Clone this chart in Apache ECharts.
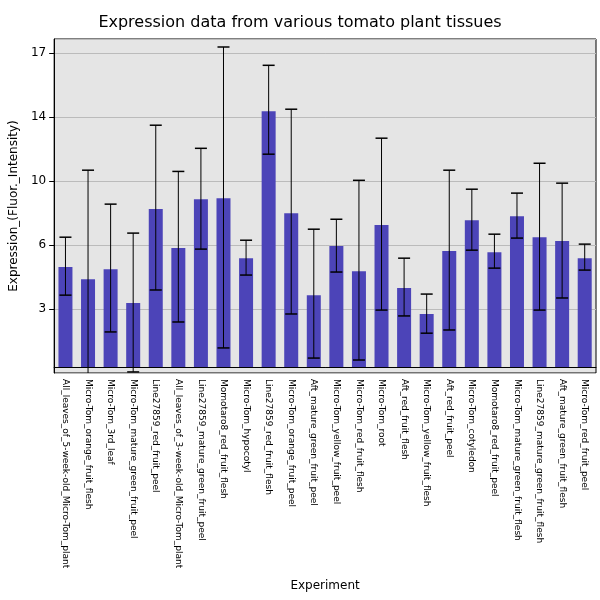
<!DOCTYPE html>
<html><head><meta charset="utf-8">
<script src="https://cdn.jsdelivr.net/npm/echarts@6/dist/echarts.min.js"></script>
<style>html,body{margin:0;padding:0;background:#fff}#c{width:600px;height:600px}</style>
</head><body><div id="c"></div>
<script>
var categories=["All_leaves_of_5-week-old_Micro-Tom_plant","Micro-Tom_orange_fruit_flesh","Micro-Tom_3rd_leaf","Micro-Tom_mature_green_fruit_peel","Line27859_red_fruit_peel","All_leaves_of_3-week-old_Micro-Tom_plant","Line27859_mature_green_fruit_peel","Momotaro8_red_fruit_flesh","Micro-Tom_hypocotyl","Line27859_red_fruit_flesh","Micro-Tom_orange_fruit_peel","Aft_mature_green_fruit_peel","Micro-Tom_yellow_fruit_peel","Micro-Tom_red_fruit_flesh","Micro-Tom_root","Aft_red_fruit_flesh","Micro-Tom_yellow_fruit_flesh","Aft_red_fruit_peel","Micro-Tom_cotyledon","Momotaro8_red_fruit_peel","Micro-Tom_mature_green_fruit_flesh","Line27859_mature_green_fruit_flesh","Aft_mature_green_fruit_flesh","Micro-Tom_red_fruit_peel"];
var values=[5.62,4.94,5.5,3.6,8.88,6.69,9.44,9.49,6.12,14.38,8.65,4.04,6.8,5.39,7.98,4.44,2.98,6.52,8.26,6.46,8.48,7.3,7.08,6.12];
var errHigh=[7.3,11.07,9.16,7.53,13.6,11.0,12.3,18.0,7.13,16.97,14.5,7.75,8.31,10.5,12.87,6.12,4.1,11.07,10.0,7.47,9.78,11.46,10.34,6.91];
var errLow=[4.04,-1.2,1.97,-0.28,4.33,2.53,6.63,1.07,5.17,11.97,2.98,0.5,5.34,0.39,3.2,2.87,1.9,2.08,6.57,5.56,7.25,3.2,3.88,5.45];
var chart=echarts.init(document.getElementById('c'));
chart.setOption({
  animation:false,
  title:{text:'Expression data from various tomato plant tissues',left:'center',top:10,textStyle:{fontSize:16,fontWeight:'normal',color:'#000',fontFamily:'DejaVu Sans'}},
  grid:{left:50,right:4,top:39,bottom:227,containLabel:false,backgroundColor:'#e5e5e5',show:true,borderColor:'#000',borderWidth:1},
  xAxis:{type:'category',data:categories,name:'Experiment',nameLocation:'middle',nameGap:207,nameTextStyle:{fontSize:12,color:'#000',fontFamily:'DejaVu Sans'},
    axisLabel:{rotate:-90,interval:0,fontSize:9,color:'#000',fontFamily:'DejaVu Sans',margin:6},
    axisTick:{show:false},axisLine:{lineStyle:{color:'#000'}}},
  yAxis:{type:'value',min:-0.34,max:18.45,interval:3.6,name:'Expression_(Fluor._Intensity)',nameLocation:'middle',nameGap:32,nameTextStyle:{fontSize:12,color:'#000',fontFamily:'DejaVu Sans'},
    axisLabel:{fontSize:12,color:'#000',fontFamily:'DejaVu Sans',showMinLabel:false,showMaxLabel:false,formatter:function(v){return Math.floor(v+1e-6)}},
    axisTick:{show:true,lineStyle:{color:'#000'}},axisLine:{show:true,lineStyle:{color:'#000'}},
    splitLine:{lineStyle:{color:'#bbbbbb'}}},
  series:[
    {type:'bar',data:values,barWidth:'62%',itemStyle:{color:'#4c44b8'}},
    {type:'custom',data:values.map(function(v,i){return [i,errLow[i],errHigh[i]]}),z:10,
     renderItem:function(params,api){
       var x=api.value(0);
       var lo=api.coord([x,api.value(1)]),hi=api.coord([x,api.value(2)]);
       var w=6;
       var c=params.coordSys;
       var bottom=c.y+c.height;
       var loY=Math.min(lo[1],bottom);
       var ch=[{type:'line',shape:{x1:hi[0],y1:hi[1],x2:hi[0],y2:loY},style:{stroke:'#000',lineWidth:1}},
               {type:'line',shape:{x1:hi[0]-w,y1:hi[1],x2:hi[0]+w,y2:hi[1]},style:{stroke:'#000',lineWidth:1.5}}];
       if(lo[1]<=bottom) ch.push({type:'line',shape:{x1:lo[0]-w,y1:lo[1],x2:lo[0]+w,y2:lo[1]},style:{stroke:'#000',lineWidth:1.5}});
       return {type:'group',children:ch};
     }}
  ]
});
</script></body></html>
